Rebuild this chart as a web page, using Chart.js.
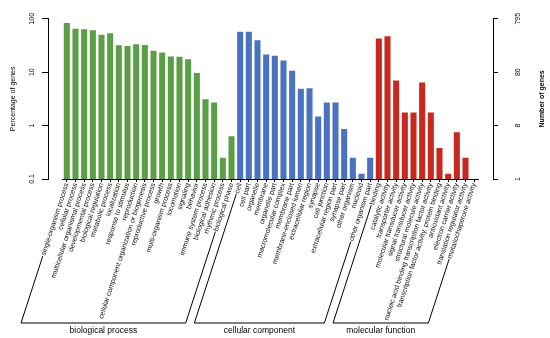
<!DOCTYPE html>
<html><head><meta charset="utf-8">
<script src="https://cdn.jsdelivr.net/npm/chart.js@4.4.1/dist/chart.umd.min.js"></script>
<style>html,body{margin:0;padding:0;background:#fff;}#wrap{width:550px;height:338px;}</style>
</head><body><div id="wrap"><canvas id="c" width="550" height="338"></canvas></div>
<script>
// ---- data (percentage of genes) ----
const bpLabels = ["single-organism process","cellular process","multicellular organismal process","developmental process","biological regulation","metabolic process","localization","response to stimulus","reproduction","cellular component organization or biogenesis","reproductive process","growth","multi-organism process","locomotion","signaling","behavior","immune system process","biological adhesion","rhythmic process","biological phase"];
const bpValues = [83.4,65.1,63.3,60.7,50.2,53.6,31.9,31.0,33.2,32.3,25.2,23.2,19.7,19.4,17.4,9.6,3.1,2.7,0.25,0.63];
const ccLabels = ["cell","cell part","organelle","membrane","organelle part","macromolecular complex","membrane part","membrane-enclosed lumen","extracellular region","synapse","cell junction","extracellular region part","synapse part","other organism","nucleoid","other organism part"];
const ccValues = [56.8,56.8,39.7,21.4,20.2,16.5,10.6,4.9,5.0,1.48,2.7,2.7,0.86,0.25,0.126,0.25];
const mfLabels = ["binding","catalytic activity","transporter activity","molecular transducer activity","signal transducer activity","structural molecule activity","nucleic acid binding transcription factor activity","transcription factor activity, protein binding","antioxidant activity","electron carrier activity","translation regulator activity","metallochaperone activity"];
const mfValues = [42.6,46.8,7.0,1.76,1.76,6.4,1.76,0.38,0.126,0.75,0.25,null];
const groupNames = ["biological process","cellular component","molecular function"];
const groupColors = ["#5b9e45","#4a72be","#c8281f"];
const yTickValues = [0.1,1,10,100];
const leftTickLabels = ["0.1","1","10","100"];
const rightTickLabels = ["1","8","80","795"];

const FAMILY = "'Liberation Sans', Arial, sans-serif";
const LABEL_SIZE = 7;
const ANGLE = 72;
Chart.defaults.font.family = FAMILY;
Chart.defaults.color = "#000";

const groupLabelSets = [bpLabels, ccLabels, mfLabels];
const categories = [].concat(bpLabels, ccLabels, mfLabels);
const values = [].concat(bpValues, ccValues, mfValues);
const colors = [];
const groups = [];
let idx = 0;
groupLabelSets.forEach((set, g) => {
  groups.push({name: groupNames[g], start: idx, end: idx + set.length - 1});
  set.forEach(() => colors.push(groupColors[g]));
  idx += set.length;
});

const insetPlugin = {
  id: 'inset',
  afterLayout(chart) {
    const x = chart.scales.x, inset = 14.5;
    x.left = chart.chartArea.left + inset;
    x.right = chart.chartArea.right - inset;
    x.width = x.right - x.left;
    x.configure();
  }
};

const bracketPlugin = {
  id: 'brackets',
  afterDraw(chart) {
    const ctx = chart.ctx, x = chart.scales.x;
    const a = ANGLE * Math.PI / 180;
    const topY = x.top + 3, botY = 323;
    const shift = (botY - topY) / Math.tan(a);
    ctx.save();
    ctx.strokeStyle = '#000'; ctx.lineWidth = 1;
    ctx.font = LABEL_SIZE + "px " + FAMILY;
    const startPt = (i) => {
      const px = x.getPixelForValue(i);
      const w = ctx.measureText(categories[i]).width + 2;
      return [px - w * Math.cos(a), topY + w * Math.sin(a)];
    };
    const segs = [];
    groups.forEach(g => {
      const xs = x.getPixelForValue(g.start), xe = x.getPixelForValue(g.end);
      segs.push({g, xs, xe, s1: startPt(g.start), s2: startPt(g.end)});
    });
    segs.forEach(({g, xs, xe, s1, s2}) => {
      ctx.beginPath();
      ctx.moveTo(s1[0], s1[1]); ctx.lineTo(xs - shift, botY);
      ctx.lineTo(xe - shift, botY); ctx.lineTo(s2[0], s2[1]);
      ctx.stroke();
      ctx.fillStyle = '#000';
      ctx.font = "8.5px " + FAMILY;
      ctx.textAlign = 'center'; ctx.textBaseline = 'middle';
      ctx.fillText(g.name, (xs + xe) / 2 - shift, botY + 8);
    });
    // right axis title
    const y2 = chart.scales.y2;
    ctx.translate(541.7, (y2.top + y2.bottom) / 2);
    ctx.rotate(-Math.PI / 2);
    ctx.font = "bold 7px " + FAMILY;
    ctx.textAlign = 'center'; ctx.textBaseline = 'middle';
    ctx.fillText('Number of genes', 0, 0);
    ctx.restore();
  }
};

new Chart(document.getElementById('c'), {
  type: 'bar',
  data: { labels: categories, datasets: [{ data: values, backgroundColor: colors, barPercentage: 0.7, categoryPercentage: 1, yAxisID: 'y' }] },
  options: {
    responsive: false, animation: false,
    layout: { padding: { top: 12, left: 0, right: 0, bottom: 0 } },
    plugins: { legend: { display: false }, tooltip: { enabled: false } },
    scales: {
      x: {
        type: 'category', offset: true,
        afterFit: s => { s.height = 159; },
        grid: { display: true, drawOnChartArea: false, drawTicks: true, tickLength: 3, offset: false, color: '#000' },
        border: { display: true, color: '#000', width: 1 },
        ticks: { autoSkip: false, minRotation: ANGLE, maxRotation: ANGLE, padding: 0, color: '#111', font: { size: LABEL_SIZE } }
      },
      y: {
        type: 'logarithmic', position: 'left', min: 0.1, max: 100,
        afterBuildTicks: s => { s.ticks = yTickValues.map(v => ({ value: v })); },
        afterFit: s => { s.width = 48; },
        grid: { drawOnChartArea: false, drawTicks: true, tickLength: 6, color: '#000' },
        border: { display: true, color: '#000', width: 1 },
        ticks: { minRotation: 90, maxRotation: 90, crossAlign: 'center', padding: 4.5, font: { size: 7 }, callback: (v, i) => leftTickLabels[i] },
        title: { display: true, text: 'Percentage of genes', font: { size: 7 }, padding: { top: 9, bottom: 0 } }
      },
      y2: {
        type: 'logarithmic', position: 'right', min: 0.1, max: 100,
        afterBuildTicks: s => { s.ticks = yTickValues.map(v => ({ value: v })); },
        afterFit: s => { s.width = 57; },
        grid: { drawOnChartArea: false, drawTicks: true, tickLength: 5, color: '#000' },
        border: { display: true, color: '#000', width: 1 },
        ticks: { minRotation: 90, maxRotation: 90, crossAlign: 'center', padding: 14.5, font: { size: 7 }, callback: (v, i) => rightTickLabels[i] }
      }
    }
  },
  plugins: [insetPlugin, bracketPlugin]
});
</script></body></html>
